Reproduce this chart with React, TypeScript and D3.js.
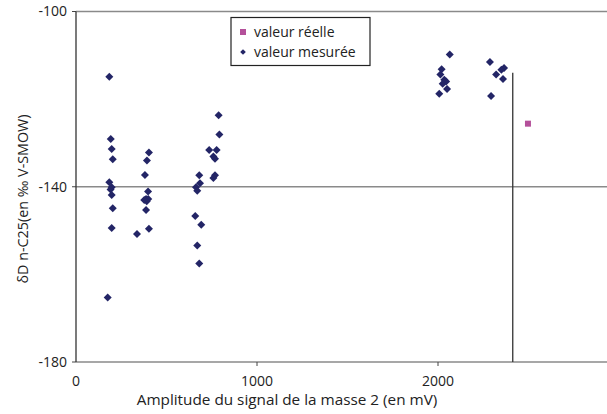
import React from 'react';
import * as d3 from 'd3';

// valeurs (amplitude en mV, δD en ‰)
const measuredX = [
  184, 192, 197, 203, 184, 197, 191, 197, 203, 197, 175,
  403, 392, 381, 398, 387, 399, 391, 377, 387, 403, 337,
  788, 792, 736, 777, 759, 768, 681, 768, 759, 685, 663, 670, 659, 692, 670, 681,
  2065, 2020, 2013, 2035, 2045, 2026, 2050, 2007,
  2287, 2365, 2350, 2321, 2359, 2293,
];
const measuredY = [
  -114.9, -129.1, -131.4, -133.7, -139.0, -140.1, -140.6, -141.9, -144.9, -149.4, -165.3,
  -132.2, -134.0, -137.3, -141.1, -142.8, -142.8, -143.3, -143.0, -145.3, -149.6, -150.8,
  -123.7, -128.1, -131.6, -131.6, -133.1, -133.6, -137.4, -137.4, -138.0, -139.2, -140.1, -140.9, -146.7, -148.7, -153.4, -157.5,
  -109.8, -113.2, -114.4, -115.6, -116.0, -116.5, -117.7, -118.8,
  -111.5, -112.9, -113.3, -114.4, -115.4, -119.3,
];
const realX = [2497];
const realY = [-125.6];
const refLineX = 2413;
const refLineY = [-114, -180];
const xTicks = [0, 1000, 2000];
const yTicks = [-100, -140, -180];

const W = 607;
const H = 414;
const FONT = '"Open Sans", sans-serif';
const NAVY = '#232566';
const PINK = '#b4509a';

const App: React.FC = () => {
  const x = d3.scaleLinear().domain([0, 3000]).range([76, 619]);
  const y = d3.scaleLinear().domain([-180, -100]).range([362, 11.5]);

  const diamond = d3.symbol().type(d3.symbolSquare).size(32)() || '';
  const square = d3.symbol().type(d3.symbolSquare).size(36)() || '';

  return (
    <svg width={W} height={H} style={{ position: 'absolute', left: 0, top: 0, background: '#fff' }} fontFamily={FONT}>
      {/* lignes horizontales */}
      {yTicks.map(t => (
        <g key={t}>
          <line x1={x(0)} x2={W} y1={y(t)} y2={y(t)} stroke="#8a8a8a" strokeWidth={1.3} />
          <line x1={x(0) - 4} x2={x(0)} y1={y(t)} y2={y(t)} stroke="#444" strokeWidth={1} />
          <text x={67} y={y(t)} dy="0.35em" textAnchor="end" fontSize={14} fill="#222">{t}</text>
        </g>
      ))}
      {/* axe vertical */}
      <line x1={x(0)} x2={x(0)} y1={y(-100)} y2={y(-180)} stroke="#333" strokeWidth={1.3} />
      {xTicks.map(t => (
        <g key={t}>
          {t > 0 && <line x1={x(t)} x2={x(t)} y1={y(-180)} y2={y(-180) + 4} stroke="#444" strokeWidth={1} />}
          <text x={x(t)} y={386} textAnchor="middle" fontSize={14} fill="#222">{t}</text>
        </g>
      ))}
      <text x={287} y={405} textAnchor="middle" fontSize={15.3} fill="#222">Amplitude du signal de la masse 2 (en mV)</text>
      <text transform={`translate(28,199) rotate(-90)`} textAnchor="middle" fontSize={14.3} fill="#222">δD n-C25(en ‰ V-SMOW)</text>

      {/* ligne verticale */}
      <line x1={x(refLineX)} x2={x(refLineX)} y1={y(refLineY[0])} y2={y(refLineY[1])} stroke="#333" strokeWidth={1.3} />

      {/* points mesurés */}
      {measuredX.map((v, i) => (
        <path key={i} d={diamond} transform={`translate(${x(v)},${y(measuredY[i])}) rotate(45)`} fill={NAVY} />
      ))}
      {realX.map((v, i) => (
        <path key={i} d={square} transform={`translate(${x(v)},${y(realY[i])})`} fill={PINK} />
      ))}

      {/* légende */}
      <rect x={231} y={17.5} width={139} height={48} fill="#fff" stroke="#222" strokeWidth={1.2} />
      <rect x={240} y={29} width={6} height={6} fill={PINK} />
      <text x={254} y={37} fontSize={14} fill="#222">valeur réelle</text>
      <path d={d3.symbol().type(d3.symbolSquare).size(16)() || ''} transform="translate(243,52) rotate(45)" fill={NAVY} />
      <text x={254} y={57} fontSize={14} fill="#222">valeur mesurée</text>
    </svg>
  );
};

export default App;
